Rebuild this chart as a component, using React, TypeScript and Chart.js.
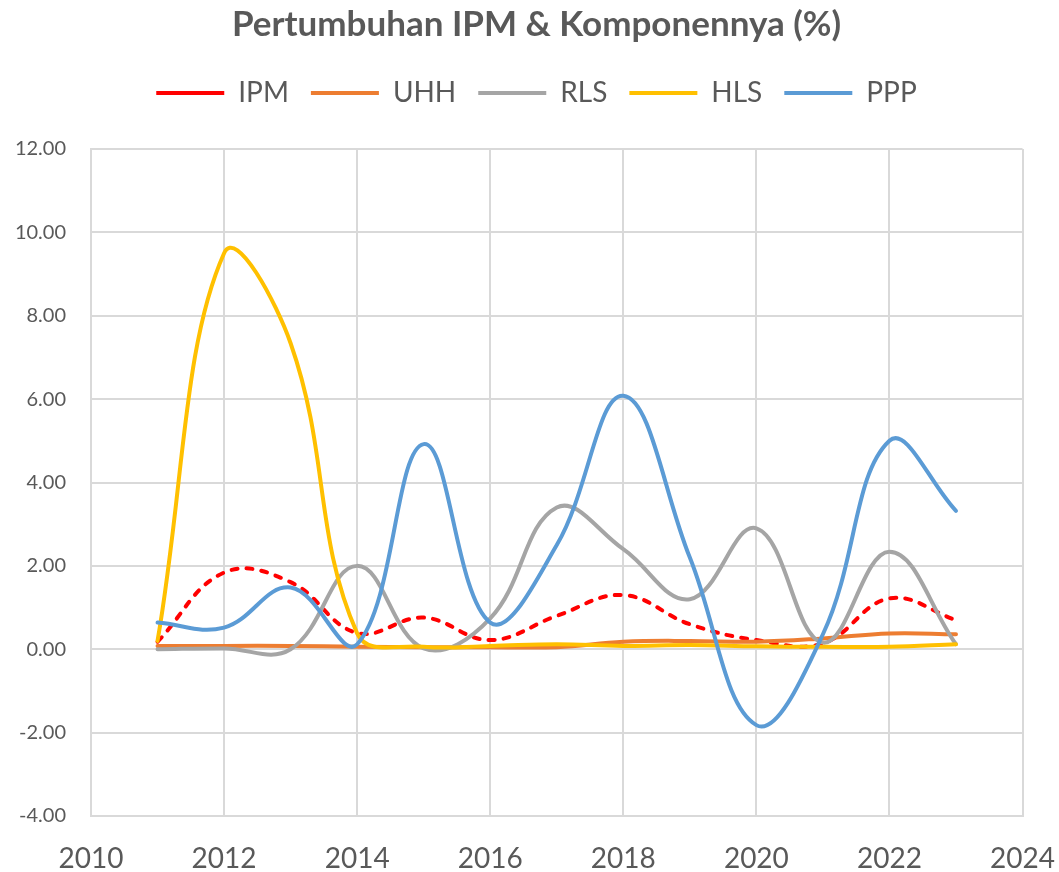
import React, { useEffect, useRef } from "react";
import { Chart, registerables } from "chart.js";

Chart.register(...registerables);

const years = [2011, 2012, 2013, 2014, 2015, 2016, 2017, 2018, 2019, 2020, 2021, 2022, 2023];
const ipm = [0.18, 1.84, 1.61, 0.39, 0.76, 0.22, 0.8, 1.3, 0.6, 0.22, 0.14, 1.22, 0.7];
const uhh = [0.08, 0.08, 0.08, 0.06, 0.05, 0.05, 0.05, 0.18, 0.2, 0.18, 0.26, 0.38, 0.36];
const rls = [0.0, 0.02, 0.0, 2.0, 0.02, 0.74, 3.4, 2.4, 1.2, 2.9, 0.16, 2.34, 0.12];
const hls = [0.2, 9.5, 7.34, 0.38, 0.06, 0.08, 0.12, 0.08, 0.1, 0.07, 0.06, 0.06, 0.12];
const ppp = [0.64, 0.52, 1.48, 0.12, 4.92, 0.64, 2.5, 6.08, 2.2, -1.82, 0.36, 5.0, 3.32];

const seriesNames = ["IPM", "UHH", "RLS", "HLS", "PPP"];
const seriesValues = [ipm, uhh, rls, hls, ppp];
const seriesColors = ["#FF0000", "#ED7D31", "#A5A5A5", "#FFC000", "#5B9BD5"];

const titleText = "Pertumbuhan IPM & Komponennya (%)";
const xMin = 2010;
const xMax = 2024;
const yMin = -4;
const yMax = 12;

const TEXT = "#595959";
const GRID = "#D9D9D9";

export default function App() {
  const ref = useRef<HTMLCanvasElement | null>(null);

  useEffect(() => {
    if (!ref.current) return;
    Chart.defaults.font.family = "Lato, 'Noto Sans', sans-serif";
    const datasets = seriesNames.map((name, i) => ({
      label: name,
      data: years.map((yr, j) => ({ x: yr, y: seriesValues[i][j] })),
      borderColor: seriesColors[i],
      backgroundColor: seriesColors[i],
      borderWidth: 4,
      borderDash: name === "IPM" ? [6, 9] : [],
      borderCapStyle: "round" as const,
      pointRadius: 0,
      pointHoverRadius: 0,
      pointStyle: "line" as const,
      tension: 0.4,
      fill: false,
      yAxisID: "y",
      order: seriesNames.length - i,
    }));

    const chart = new Chart(ref.current, {
      type: "line",
      data: { datasets },
      options: {
        animation: false,
        responsive: true,
        maintainAspectRatio: false,
        layout: { padding: { left: 14, right: 0, top: 0, bottom: 0 } },
        plugins: {
          title: {
            display: true,
            text: titleText,
            color: TEXT,
            font: { size: 35, weight: "bold" },
            padding: { top: 4, bottom: 11 },
          },
          subtitle: {
            display: true,
            text: " ",
            weight: 500,
            padding: 0,
            font: { size: 32, lineHeight: 1 },
          } as any,
          legend: {
            display: true,
            position: "top",
            labels: {
              usePointStyle: true,
              pointStyle: "line",
              pointStyleWidth: 68,
              color: TEXT,
              font: { size: 28 },
              padding: 22,
              sort: (a: any, b: any) => a.datasetIndex - b.datasetIndex,
            },
          },
          tooltip: { enabled: false },
        },
        scales: {
          x: {
            type: "linear",
            min: xMin,
            max: xMax,
            ticks: {
              stepSize: 2,
              color: TEXT,
              font: { size: 28 },
              padding: 4,
              maxRotation: 0,
              callback: (v: any) => String(v),
            },
            grid: {
              color: GRID,
              lineWidth: 2,
              drawTicks: true,
              tickLength: 22,
              tickColor: "rgba(0,0,0,0)",
            },
            border: { color: GRID, width: 2 },
            afterFit: (s: any) => {
              s.height = 56;
            },
          },
          y: {
            type: "linear",
            position: "left",
            min: yMin,
            max: yMax,
            ticks: {
              stepSize: 2,
              color: TEXT,
              font: { size: 20 },
              padding: 25,
              callback: (v: any) => Number(v).toFixed(2),
            },
            grid: { color: GRID, lineWidth: 2, drawTicks: false },
            border: { color: GRID, width: 2 },
            afterFit: (s: any) => {
              s.width = 77;
            },
          },
          y2: {
            type: "linear",
            position: "right",
            min: yMin,
            max: yMax,
            display: true,
            ticks: { display: false },
            grid: { display: false, drawOnChartArea: false, drawTicks: false },
            border: { display: false },
            afterFit: (s: any) => {
              s.width = 35;
            },
          },
        },
      },
    });
    return () => chart.destroy();
  }, []);

  return (
    <div style={{ position: "absolute", left: 0, top: 0, width: 1059, height: 872, background: "#fff" }}>
      <canvas ref={ref} />
    </div>
  );
}
